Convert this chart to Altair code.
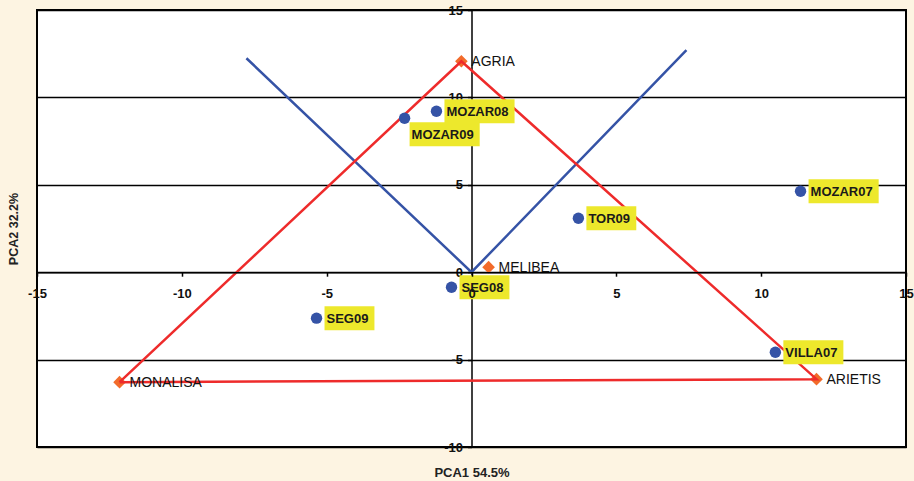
import altair as alt
import pandas as pd

# Samples plotted on the first two principal components
sample_names = ["MOZAR08", "MOZAR09", "MOZAR07", "TOR09", "SEG08", "SEG09", "VILLA07"]
sample_pc1 = [-1.21, -2.31, 11.36, 3.69, -0.69, -5.35, 10.49]
sample_pc2 = [9.21, 8.81, 4.63, 3.09, -0.86, -2.63, -4.58]

# Reference cultivars
cultivar_names = ["AGRIA", "MELIBEA", "MONALISA", "ARIETIS"]
cultivar_pc1 = [-0.35, 0.59, -12.15, 11.91]
cultivar_pc2 = [12.07, 0.29, -6.29, -6.12]

# Triangle joining the three outer cultivars
triangle_path = ["MONALISA", "AGRIA", "ARIETIS", "MONALISA"]

# V-shaped guide through the origin
v_pc1 = [-7.77, 0.0, 7.42]
v_pc2 = [12.24, 0.0, 12.70]

x_ticks = [-15, -10, -5, 0, 5, 10, 15]
y_ticks = [-10, -5, 0, 5, 10, 15]

x_title = "PCA1 54.5%"
y_title = "PCA2 32.2%"

# ---- styling ----
FONT = "Liberation Sans"
W, H = 869, 437
BG = "#fdf4e2"
YELLOW = "#ede82c"
BLUE = "#3553a6"
RED = "#ee2b2b"
ORANGE = "#f26b2b"
LABEL_SIZE = 13

# label offset (px) from the point centre; default is just to the right
LABEL_SHIFT = {"MOZAR09": (7, 16)}
DEFAULT_SHIFT = (10, 0)

# Arial-bold advance widths (per 1000 em) for sizing the label boxes
_CW = {"M": 833, "O": 778, "Z": 611, "A": 722, "R": 722, "T": 611, "S": 667,
       "E": 667, "G": 778, "V": 667, "I": 278, "L": 611}


def text_width(s, size=LABEL_SIZE):
    return sum(_CW.get(c, 556) for c in s) * size / 1000.0


samples = pd.DataFrame({"name": sample_names, "pc1": sample_pc1, "pc2": sample_pc2})
cultivars = pd.DataFrame({"name": cultivar_names, "pc1": cultivar_pc1, "pc2": cultivar_pc2})
lookup = dict(zip(cultivar_names, zip(cultivar_pc1, cultivar_pc2)))
triangle = pd.DataFrame({
    "step": list(range(len(triangle_path))),
    "pc1": [lookup[n][0] for n in triangle_path],
    "pc2": [lookup[n][1] for n in triangle_path],
})
vguide = pd.DataFrame({"step": list(range(len(v_pc1))), "pc1": v_pc1, "pc2": v_pc2})

xs = alt.Scale(domain=[x_ticks[0], x_ticks[-1]], nice=False, zero=False)
ys = alt.Scale(domain=[y_ticks[0], y_ticks[-1]], nice=False, zero=False)

# axes cross at the origin: pixel distance from the plot edges to zero
x_zero_px = W * (0 - x_ticks[0]) / (x_ticks[-1] - x_ticks[0])
y_zero_px = H * (y_ticks[-1] - 0) / (y_ticks[-1] - y_ticks[0])

# plain hyphen for negative tick labels
PLAIN = "datum.value + ''"

x_axis = alt.Axis(
    values=x_ticks, labelExpr=PLAIN, grid=False, offset=-(H - y_zero_px), zindex=1,
    domainColor="black", domainWidth=1.5, tickColor="black", tickSize=4, tickWidth=1.5,
    labelFont=FONT, labelFontSize=13, labelFontWeight="bold", labelColor="#111",
    labelPadding=11, labelFlush=False, labelOverlap=False, labelBound=False,
    title=x_title, titleFont=FONT, titleFontSize=13, titleFontWeight="bold",
    titleColor="#222", titleX=W / 2, titleY=H - y_zero_px + 25, titleBaseline="middle",
)
y_axis = alt.Axis(
    values=y_ticks, labelExpr=PLAIN, grid=True, gridColor="black", gridWidth=1.5, gridOpacity=1,
    offset=-x_zero_px,
    domainColor="black", domainWidth=1.5, tickColor="black", tickSize=4, tickWidth=1.5,
    labelFont=FONT, labelFontSize=13, labelFontWeight="bold", labelColor="#111",
    labelPadding=5, labelFlush=False, labelOverlap=False, labelBound=False,
    title=y_title, titleFont=FONT, titleFontSize=12.5, titleFontWeight="bold",
    titleColor="#222", titleX=-(x_zero_px + 24), titleY=H / 2, titleBaseline="middle",
    titleAngle=270,
)


def xy():
    return dict(
        x=alt.X("pc1:Q", scale=xs, axis=x_axis),
        y=alt.Y("pc2:Q", scale=ys, axis=y_axis),
    )


layers = []

# V guide
layers.append(
    alt.Chart(vguide).mark_line(color=BLUE, strokeWidth=2.5).encode(order="step:Q", **xy())
)

# cultivars
layers.append(
    alt.Chart(cultivars).mark_point(shape="diamond", filled=True, size=160, color=ORANGE, opacity=1)
    .encode(**xy())
)

# triangle
layers.append(
    alt.Chart(triangle).mark_line(color=RED, strokeWidth=2.5).encode(order="step:Q", **xy())
)

# sample points
layers.append(
    alt.Chart(samples).mark_circle(size=130, color=BLUE, opacity=1).encode(**xy())
)

# yellow boxes + labels for the samples
for n in sample_names:
    dx, dy = LABEL_SHIFT.get(n, DEFAULT_SHIFT)
    w = text_width(n) + 8
    base = alt.Chart(samples).transform_filter(alt.datum.name == n)
    layers.append(
        base.mark_rect(color=YELLOW, opacity=1,
                       xOffset=dx - 2, x2Offset=dx - 2 + w,
                       yOffset=dy - 12, y2Offset=dy + 12)
        .encode(x2="pc1:Q", y2="pc2:Q", **xy())
    )
    layers.append(
        base.mark_text(align="left", baseline="middle", dx=dx, dy=dy + 1,
                       font=FONT, fontSize=LABEL_SIZE, fontWeight="bold", color="#1a1a1a")
        .encode(text="name:N", **xy())
    )

# cultivar labels
layers.append(
    alt.Chart(cultivars).mark_text(align="left", baseline="middle", dx=10, dy=1,
                                   font=FONT, fontSize=14, color="#111")
    .encode(text="name:N", **xy())
)

chart = (
    alt.layer(*layers)
    .properties(
        width=W, height=H, background=BG,
        autosize=alt.AutoSizeParams(type="none"),
        padding={"left": 37, "top": 10, "right": 8, "bottom": 34},
    )
    .configure_view(stroke="black", strokeWidth=2, fill="white")
)

chart.save("out.html", embed_options={"renderer": "svg", "actions": False})
